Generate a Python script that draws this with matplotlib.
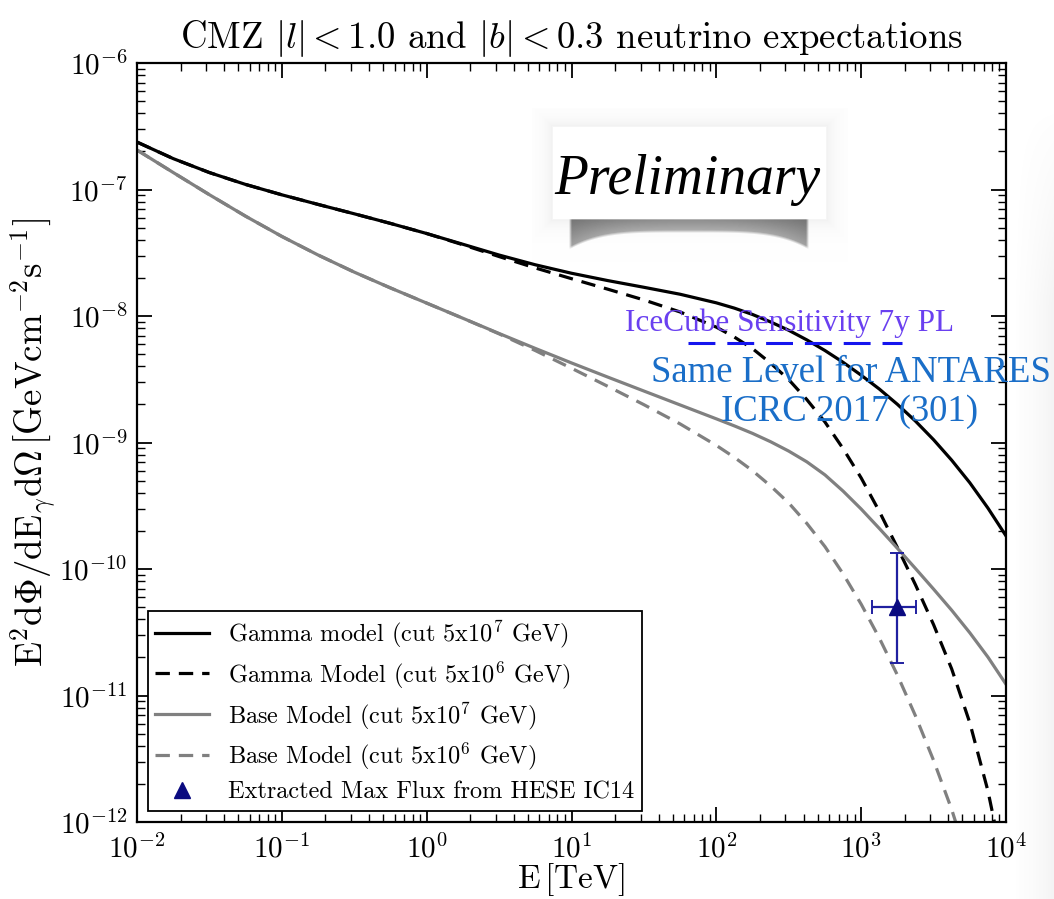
import numpy as np
import matplotlib
matplotlib.use("Agg")
import matplotlib.pyplot as plt
from matplotlib.lines import Line2D

plt.rcParams.update({
    "font.family": "serif",
    "font.serif": ["cmr10"],
    "mathtext.fontset": "cm",
    "axes.formatter.use_mathtext": True,
    "axes.unicode_minus": False,
})

# ---------------------------------------------------------------- data
# neutrino energy [TeV]: quarter-decade steps, eighth-decade above 100 TeV
energy = [0.01, 0.0178, 0.0316, 0.0562, 0.1, 0.178, 0.316, 0.562, 1.0,
          1.78, 3.16, 5.62, 10.0, 17.8, 31.6, 56.2, 100.0, 133.4, 177.8,
          237.1, 316.2, 421.7, 562.3, 749.9, 1000.0, 1333.5, 1778.0,
          2371.0, 3162.0, 4217.0, 5623.0, 7499.0, 10000.0]

# log10 of E^2 dPhi/dE dOmega [GeV cm^-2 s^-1 sr^-1]
gamma_cut7_log = [-6.625, -6.756, -6.866, -6.960, -7.042, -7.118, -7.192,
                  -7.268, -7.348, -7.433, -7.518, -7.595, -7.662, -7.720,
                  -7.773, -7.828, -7.896, -7.938, -7.988, -8.047, -8.113,
                  -8.189, -8.273, -8.366, -8.468, -8.577, -8.698, -8.831,
                  -8.978, -9.140, -9.318, -9.518, -9.738]
gamma_cut6_log = [-6.625, -6.756, -6.866, -6.960, -7.042, -7.118, -7.192,
                  -7.268, -7.348, -7.437, -7.530, -7.620, -7.705, -7.788,
                  -7.873, -7.968, -8.088, -8.167, -8.258, -8.373, -8.503,
                  -8.661, -8.838, -9.048, -9.280, -9.544, -9.830, -10.125,
                  -10.440, -10.790, -11.215, -11.753, -12.440]
base_cut7_log = [-6.688, -6.866, -7.041, -7.211, -7.371, -7.518, -7.653,
                 -7.778, -7.898, -8.018, -8.138, -8.256, -8.371, -8.483,
                 -8.593, -8.703, -8.813, -8.869, -8.928, -8.994, -9.068,
                 -9.153, -9.256, -9.384, -9.526, -9.679, -9.836, -9.996,
                 -10.159, -10.326, -10.504, -10.696, -10.911]

energy_base6 = [0.01, 0.0178, 0.0316, 0.0562, 0.1, 0.178, 0.316, 0.562,
                1.0, 1.78, 3.16, 5.62, 10.0, 17.8, 31.6, 56.2, 100.0, 133.4,
                177.8, 237.1, 316.2, 421.7, 562.3, 749.9, 1000.0, 1333.5,
                1778.0, 2371.0, 3162.0, 4217.0, 5623.0]
base_cut6_log = [-6.688, -6.866, -7.041, -7.211, -7.371, -7.518, -7.653,
                 -7.778, -7.898, -8.018, -8.141, -8.273, -8.413, -8.556,
                 -8.701, -8.853, -9.023, -9.118, -9.223, -9.344, -9.478,
                 -9.640, -9.823, -10.038, -10.278, -10.545, -10.838,
                 -11.161, -11.513, -11.901, -12.351]

# HESE IC14 extracted maximum flux
hese_E = [1780.0]
hese_E_lo = [1190.0]
hese_E_hi = [2400.0]
hese_F = [5.0e-11]
hese_F_lo = [1.8e-11]
hese_F_hi = [1.33e-10]

# IceCube 7 yr point-like sensitivity
sens_E = [64.0, 1900.0]
sens_F = [6.1e-9, 6.1e-9]

labels = [
    r"Gamma model (cut 5x10$^7$ GeV)",
    r"Gamma Model (cut 5x10$^6$ GeV)",
    r"Base Model (cut 5x10$^7$ GeV)",
    r"Base Model (cut 5x10$^6$ GeV)",
    r"Extracted Max Flux from HESE IC14",
]

# ---------------------------------------------------------------- figure
W, H = 1054, 899
fig = plt.figure(figsize=(W / 100, H / 100), dpi=100)

# faint grey shading along the right margin of the page
gx = np.linspace(0.0, 1.0, 44)
gy = np.linspace(0.0, 1.0, 80)
GX, GY = np.meshgrid(gx, gy)
shade = 0.085 * np.clip(GX, 0, 1) ** 1.5 * np.clip(GY * 4.0, 0, 1)
band_rgba = np.zeros((80, 44, 4))
band_rgba[..., :3] = 0.5
band_rgba[..., 3] = shade
bax = fig.add_axes([1010 / W, 0.0, 44 / W, 1 - 100 / H], zorder=-5)
bax.imshow(band_rgba, aspect="auto", interpolation="bilinear",
           origin="upper")
bax.set_axis_off()

ax = fig.add_axes([137 / W, 1 - 822 / H, (1006 - 137) / W, (822 - 63) / H])

lw = 2.3
dash = (4.5, 2.8)
gray = "#808080"

def pw(vals):
    return [10.0 ** v for v in vals]

l1, = ax.plot(energy, pw(gamma_cut7_log), color="black", lw=lw)
l2, = ax.plot(energy, pw(gamma_cut6_log), color="black", lw=lw,
              ls=(0, dash))
l3, = ax.plot(energy, pw(base_cut7_log), color=gray, lw=lw)
l4, = ax.plot(energy_base6, pw(base_cut6_log), color=gray, lw=lw,
              ls=(0, dash))

navy = "#0a0a80"
xerr = [[e - lo for e, lo in zip(hese_E, hese_E_lo)],
        [hi - e for e, hi in zip(hese_E, hese_E_hi)]]
yerr = [[f - lo for f, lo in zip(hese_F, hese_F_lo)],
        [hi - f for f, hi in zip(hese_F, hese_F_hi)]]
ax.errorbar(hese_E, hese_F, xerr=xerr, yerr=yerr, fmt="^", color=navy,
            ecolor="#2020a0", elinewidth=1.6, capsize=5, capthick=1.4,
            markersize=12, zorder=5)
m5 = Line2D([], [], ls="none", marker="^", color=navy, markersize=12)

ax.plot(sens_E, sens_F, color="#1515ee", lw=2.2, ls=(0, (8.8, 3.9)),
        zorder=4, clip_on=False)

ax.set_xscale("log")
ax.set_yscale("log")
ax.set_xlim(1e-2, 1e4)
ax.set_ylim(1e-12, 1e-6)

for s in ax.spines.values():
    s.set_linewidth(1.6)
ax.tick_params(which="both", direction="in", top=True, right=True,
               labelsize=21)
ax.tick_params(which="major", length=11, width=1.3, pad=9)
ax.tick_params(which="minor", length=5.5, width=1.0)
ax.tick_params(axis="y", which="major", pad=7)

ax.set_title(r"CMZ $|l|<1.0$ and $|b|<0.3$ neutrino expectations",
             fontsize=26.5, pad=11)
ax.set_xlabel(r"$\mathrm{E\,[TeV]}$", fontsize=24, labelpad=-2)
ax.set_ylabel(r"$\mathrm{E^2d\Phi/dE_{\gamma}d\Omega\,[GeVcm^{-2}s^{-1}]}$",
              fontsize=26.5, labelpad=1)

leg = ax.legend([l1, l2, l3, l4, m5], labels, loc="lower left",
                fontsize=17.5, frameon=True, fancybox=False, framealpha=1,
                edgecolor="black", handlelength=2.2, handletextpad=0.8,
                borderaxespad=0.45, labelspacing=0.38, borderpad=0.3)
leg.get_frame().set_linewidth(1.3)

# ---------------------------------------------------------------- stamp
x0, x1, y0, y1 = 532, 848, 108, 262
px = np.arange(x0, x1) + 0.5
py = np.arange(y0, y1) + 0.5
PX, PY = np.meshgrid(px, py)

bx0, bx1, by0, by1 = 553, 826, 127, 219
dx = np.maximum(bx0 - PX, PX - bx1)
dy = np.maximum(by0 - PY, PY - by1)
d = np.maximum(dx, dy)

def over(C, A, c, a):
    return c * a + C * (1 - a), a + A * (1 - a)

C = np.zeros_like(PX)
A = np.zeros_like(PX)
halo_a = np.where(d > 0, 0.55 * np.exp(-np.clip(d, 0, None) / 9.0), 0.0)
C, A = over(C, A, 0.90, halo_a)

u = np.clip((PX - 689.0) / 120.0, -1.2, 1.2)
depth = 14 + 17 * u ** 4
t = (PY - by1) / depth
inside = (t >= 0) & (t <= 1) & (np.abs(PX - 689.0) <= 120)
edge_fade = np.clip((120 - np.abs(PX - 689.0)) / 3.0, 0, 1)
bottom_fade = np.clip((1 - t) * depth / 3.0, 0, 1)
shadow_a = np.where(inside, 0.85 * (1 - 0.35 * t) * edge_fade * bottom_fade,
                    0.0)
shadow_c = 0.48 - 0.12 * np.clip(u, -1, 1) ** 2
C, A = over(C, A, shadow_c, shadow_a)

box_a = np.clip(1 - (d + 1.5) / 3.0, 0, 1)
C, A = over(C, A, 1.0, box_a)

col = np.where(A > 1e-6, C / np.maximum(A, 1e-6), 1.0)
rgba = np.dstack([col, col, col, A])
sax = fig.add_axes([x0 / W, 1 - y1 / H, (x1 - x0) / W, (y1 - y0) / H])
sax.imshow(rgba, aspect="auto", interpolation="bilinear")
sax.set_axis_off()

fig.text(687 / W, 1 - 194 / H, "Preliminary", fontsize=40,
         family="Liberation Serif", style="italic", ha="center",
         va="baseline", color="black")

# ---------------------------------------------------------------- notes
fig.text(790 / W, 1 - 331 / H, "IceCube Sensitivity 7y PL", fontsize=22.5,
         family="Liberation Serif", color="#6a40f0", ha="center",
         va="baseline")
fig.text(851 / W, 1 - 382 / H, "Same Level for ANTARES", fontsize=26.5,
         family="Liberation Serif", color="#1a6ec8", ha="center",
         va="baseline")
fig.text(850 / W, 1 - 421 / H, "ICRC 2017 (301)", fontsize=26.5,
         family="Liberation Serif", color="#1a6ec8", ha="center",
         va="baseline")

fig.savefig("out.png", dpi=100)
